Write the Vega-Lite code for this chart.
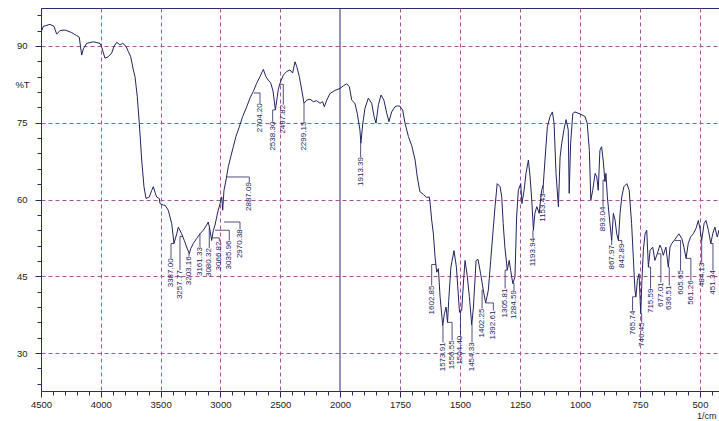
{
  "$schema": "https://vega.github.io/schema/vega-lite/v6.json",
  "width": 680,
  "height": 383,
  "autosize": {"type": "none"},
  "padding": {"left": 41, "top": 8, "right": 0, "bottom": 30},
  "background": "white",
  "config": {
    "view": {"stroke": "#2a2a6e", "strokeWidth": 1},
    "font": "Liberation Sans",
    "axis": {
      "labelFont": "Liberation Sans",
      "titleFont": "Liberation Sans",
      "labelColor": "#222222",
      "titleColor": "#222222",
      "titleFontWeight": "normal",
      "tickColor": "#2a2a6e",
      "domainColor": "#2a2a6e",
      "gridColor": "#a8559a",
      "gridDash": [4, 3],
      "labelOverlap": false
    }
  },
  "datasets": {
    "spectrum": [
      {"wn": 4500, "t": 92.6}, {"wn": 4481, "t": 93.8}, {"wn": 4425, "t": 94.2}, {"wn": 4391, "t": 93.8},
      {"wn": 4369, "t": 92.3}, {"wn": 4341, "t": 93.0}, {"wn": 4299, "t": 93.1}, {"wn": 4243, "t": 92.6},
      {"wn": 4202, "t": 92.0}, {"wn": 4180, "t": 91.7}, {"wn": 4160, "t": 88.2}, {"wn": 4146, "t": 89.4},
      {"wn": 4118, "t": 90.5}, {"wn": 4063, "t": 90.8}, {"wn": 4007, "t": 90.5}, {"wn": 3992, "t": 89.7},
      {"wn": 3965, "t": 87.6}, {"wn": 3937, "t": 87.9}, {"wn": 3909, "t": 88.6}, {"wn": 3890, "t": 89.9},
      {"wn": 3867, "t": 90.7}, {"wn": 3839, "t": 90.2}, {"wn": 3817, "t": 90.5}, {"wn": 3789, "t": 89.9},
      {"wn": 3770, "t": 88.9}, {"wn": 3750, "t": 87.9}, {"wn": 3728, "t": 85.3}, {"wn": 3714, "t": 84.0},
      {"wn": 3695, "t": 80.1}, {"wn": 3678, "t": 74.9}, {"wn": 3658, "t": 67.7}, {"wn": 3639, "t": 62.5},
      {"wn": 3622, "t": 60.2}, {"wn": 3594, "t": 60.5}, {"wn": 3574, "t": 61.8}, {"wn": 3561, "t": 62.5},
      {"wn": 3545, "t": 61.3}, {"wn": 3533, "t": 60.5}, {"wn": 3511, "t": 60.2}, {"wn": 3505, "t": 59.2},
      {"wn": 3477, "t": 58.9}, {"wn": 3463, "t": 58.9}, {"wn": 3436, "t": 57.9}, {"wn": 3407, "t": 55.3},
      {"wn": 3388, "t": 51.4}, {"wn": 3365, "t": 53.3}, {"wn": 3352, "t": 54.6}, {"wn": 3324, "t": 53.3},
      {"wn": 3302, "t": 52.0}, {"wn": 3282, "t": 50.7}, {"wn": 3260, "t": 49.4}, {"wn": 3248, "t": 50.4},
      {"wn": 3227, "t": 51.4}, {"wn": 3198, "t": 52.4}, {"wn": 3171, "t": 53.3}, {"wn": 3143, "t": 54.0},
      {"wn": 3115, "t": 55.0}, {"wn": 3101, "t": 55.6}, {"wn": 3087, "t": 54.0}, {"wn": 3073, "t": 52.0},
      {"wn": 3059, "t": 54.0}, {"wn": 3045, "t": 55.0}, {"wn": 3031, "t": 56.6}, {"wn": 3018, "t": 57.9},
      {"wn": 3003, "t": 59.2}, {"wn": 2989, "t": 60.5}, {"wn": 2981, "t": 57.9}, {"wn": 2970, "t": 61.8},
      {"wn": 2953, "t": 63.8}, {"wn": 2934, "t": 66.4}, {"wn": 2914, "t": 68.3}, {"wn": 2892, "t": 70.3},
      {"wn": 2870, "t": 72.3}, {"wn": 2842, "t": 74.2}, {"wn": 2814, "t": 76.2}, {"wn": 2780, "t": 78.1},
      {"wn": 2753, "t": 79.8}, {"wn": 2725, "t": 81.1}, {"wn": 2697, "t": 82.7}, {"wn": 2669, "t": 84.0},
      {"wn": 2641, "t": 85.4}, {"wn": 2619, "t": 84.0}, {"wn": 2600, "t": 83.3}, {"wn": 2580, "t": 82.8},
      {"wn": 2560, "t": 81.2}, {"wn": 2540, "t": 77.5}, {"wn": 2525, "t": 80.0}, {"wn": 2516, "t": 81.5},
      {"wn": 2502, "t": 82.7}, {"wn": 2474, "t": 84.3}, {"wn": 2446, "t": 85.0}, {"wn": 2418, "t": 85.3},
      {"wn": 2396, "t": 84.7}, {"wn": 2376, "t": 86.9}, {"wn": 2362, "t": 86.0}, {"wn": 2340, "t": 84.0},
      {"wn": 2320, "t": 81.4}, {"wn": 2301, "t": 78.8}, {"wn": 2278, "t": 79.4}, {"wn": 2251, "t": 79.6},
      {"wn": 2223, "t": 79.1}, {"wn": 2195, "t": 79.3}, {"wn": 2167, "t": 78.8}, {"wn": 2145, "t": 79.1},
      {"wn": 2131, "t": 78.1}, {"wn": 2111, "t": 79.4}, {"wn": 2084, "t": 80.7}, {"wn": 2042, "t": 81.3},
      {"wn": 2000, "t": 81.7}, {"wn": 1986, "t": 82.2}, {"wn": 1972, "t": 82.6}, {"wn": 1961, "t": 82.0},
      {"wn": 1951, "t": 79.4}, {"wn": 1938, "t": 78.8}, {"wn": 1928, "t": 76.8}, {"wn": 1917, "t": 73.6},
      {"wn": 1913, "t": 71.0}, {"wn": 1905, "t": 74.9}, {"wn": 1896, "t": 77.8}, {"wn": 1882, "t": 79.8},
      {"wn": 1868, "t": 78.8}, {"wn": 1858, "t": 76.2}, {"wn": 1850, "t": 74.9}, {"wn": 1840, "t": 78.5},
      {"wn": 1829, "t": 80.4}, {"wn": 1817, "t": 79.4}, {"wn": 1805, "t": 76.8}, {"wn": 1796, "t": 75.2},
      {"wn": 1785, "t": 77.1}, {"wn": 1771, "t": 78.1}, {"wn": 1761, "t": 78.3}, {"wn": 1750, "t": 78.2},
      {"wn": 1739, "t": 77.5}, {"wn": 1729, "t": 74.9}, {"wn": 1715, "t": 72.3}, {"wn": 1701, "t": 70.5},
      {"wn": 1687, "t": 67.7}, {"wn": 1678, "t": 64.4}, {"wn": 1667, "t": 61.5}, {"wn": 1663, "t": 61.4},
      {"wn": 1653, "t": 61.0}, {"wn": 1639, "t": 60.4}, {"wn": 1628, "t": 60.5}, {"wn": 1625, "t": 59.5},
      {"wn": 1618, "t": 56.0}, {"wn": 1611, "t": 53.3}, {"wn": 1604, "t": 48.8}, {"wn": 1597, "t": 45.8},
      {"wn": 1590, "t": 46.5}, {"wn": 1583, "t": 41.0}, {"wn": 1572, "t": 35.4}, {"wn": 1565, "t": 37.7},
      {"wn": 1558, "t": 39.0}, {"wn": 1552, "t": 36.0}, {"wn": 1547, "t": 40.3}, {"wn": 1538, "t": 46.8},
      {"wn": 1525, "t": 50.0}, {"wn": 1515, "t": 46.8}, {"wn": 1502, "t": 38.0}, {"wn": 1493, "t": 38.3},
      {"wn": 1486, "t": 43.5}, {"wn": 1479, "t": 48.1}, {"wn": 1470, "t": 45.2}, {"wn": 1461, "t": 41.0},
      {"wn": 1451, "t": 35.5}, {"wn": 1444, "t": 39.0}, {"wn": 1433, "t": 48.1}, {"wn": 1425, "t": 48.3},
      {"wn": 1414, "t": 45.5}, {"wn": 1403, "t": 42.3}, {"wn": 1393, "t": 39.8}, {"wn": 1382, "t": 42.3},
      {"wn": 1372, "t": 48.1}, {"wn": 1361, "t": 54.6}, {"wn": 1354, "t": 58.6}, {"wn": 1345, "t": 63.1},
      {"wn": 1333, "t": 62.5}, {"wn": 1326, "t": 60.5}, {"wn": 1320, "t": 55.3}, {"wn": 1313, "t": 50.7},
      {"wn": 1303, "t": 46.2}, {"wn": 1295, "t": 48.1}, {"wn": 1289, "t": 46.2}, {"wn": 1280, "t": 43.6},
      {"wn": 1271, "t": 44.9}, {"wn": 1264, "t": 56.6}, {"wn": 1257, "t": 61.8}, {"wn": 1247, "t": 63.1},
      {"wn": 1242, "t": 59.2}, {"wn": 1233, "t": 61.8}, {"wn": 1225, "t": 65.1}, {"wn": 1215, "t": 67.7},
      {"wn": 1208, "t": 64.4}, {"wn": 1201, "t": 59.9}, {"wn": 1194, "t": 54.0}, {"wn": 1188, "t": 57.3},
      {"wn": 1180, "t": 58.6}, {"wn": 1170, "t": 57.3}, {"wn": 1160, "t": 61.8}, {"wn": 1153, "t": 62.8},
      {"wn": 1146, "t": 67.7}, {"wn": 1136, "t": 74.2}, {"wn": 1125, "t": 76.2}, {"wn": 1115, "t": 77.1},
      {"wn": 1108, "t": 74.9}, {"wn": 1100, "t": 65.1}, {"wn": 1090, "t": 58.6}, {"wn": 1083, "t": 68.3},
      {"wn": 1076, "t": 71.0}, {"wn": 1067, "t": 73.6}, {"wn": 1058, "t": 75.6}, {"wn": 1049, "t": 73.6},
      {"wn": 1045, "t": 61.2}, {"wn": 1039, "t": 71.0}, {"wn": 1030, "t": 76.8}, {"wn": 1021, "t": 77.1},
      {"wn": 1000, "t": 76.7}, {"wn": 979, "t": 76.2}, {"wn": 970, "t": 74.9}, {"wn": 961, "t": 69.6},
      {"wn": 955, "t": 59.9}, {"wn": 947, "t": 61.8}, {"wn": 937, "t": 65.1}, {"wn": 930, "t": 64.4},
      {"wn": 924, "t": 61.8}, {"wn": 917, "t": 69.6}, {"wn": 910, "t": 70.3}, {"wn": 903, "t": 67.5},
      {"wn": 896, "t": 63.5}, {"wn": 892, "t": 65.1}, {"wn": 886, "t": 60.5}, {"wn": 878, "t": 56.6},
      {"wn": 868, "t": 52.0}, {"wn": 861, "t": 57.3}, {"wn": 854, "t": 56.0}, {"wn": 847, "t": 53.3},
      {"wn": 840, "t": 52.0}, {"wn": 833, "t": 57.3}, {"wn": 826, "t": 60.5}, {"wn": 817, "t": 62.5},
      {"wn": 805, "t": 63.1}, {"wn": 795, "t": 61.8}, {"wn": 785, "t": 55.3}, {"wn": 778, "t": 48.8},
      {"wn": 771, "t": 42.3}, {"wn": 767, "t": 41.0}, {"wn": 761, "t": 44.2}, {"wn": 754, "t": 45.5},
      {"wn": 747, "t": 37.7}, {"wn": 742, "t": 44.2}, {"wn": 736, "t": 50.1}, {"wn": 729, "t": 53.3},
      {"wn": 722, "t": 54.0}, {"wn": 715, "t": 46.8}, {"wn": 708, "t": 50.1}, {"wn": 697, "t": 50.7},
      {"wn": 688, "t": 48.1}, {"wn": 678, "t": 49.4}, {"wn": 667, "t": 51.1}, {"wn": 660, "t": 50.4},
      {"wn": 653, "t": 49.1}, {"wn": 642, "t": 50.7}, {"wn": 632, "t": 46.8}, {"wn": 625, "t": 50.7},
      {"wn": 618, "t": 51.4}, {"wn": 608, "t": 52.0}, {"wn": 597, "t": 52.7}, {"wn": 588, "t": 53.3},
      {"wn": 576, "t": 52.4}, {"wn": 567, "t": 50.7}, {"wn": 558, "t": 48.5}, {"wn": 549, "t": 51.4},
      {"wn": 539, "t": 52.7}, {"wn": 528, "t": 53.3}, {"wn": 517, "t": 54.3}, {"wn": 507, "t": 55.9},
      {"wn": 500, "t": 54.3}, {"wn": 493, "t": 52.0}, {"wn": 483, "t": 55.3}, {"wn": 475, "t": 55.9},
      {"wn": 465, "t": 54.0}, {"wn": 455, "t": 51.4}, {"wn": 447, "t": 53.3}, {"wn": 438, "t": 54.6},
      {"wn": 428, "t": 52.7}, {"wn": 421, "t": 54.0}, {"wn": 412, "t": 53.0}
    ],
    "peaks": [
      {"label": "3387.00", "px": 3388, "pt": 51.4, "lx": 3413, "ly": 48.5},
      {"label": "3257.77", "px": 3313, "pt": 52.8, "lx": 3338, "ly": 46.2},
      {"label": "3203.16", "px": 3260, "pt": 49.4, "lx": 3263, "ly": 48.9},
      {"label": "3161.33", "px": 3171, "pt": 53.3, "lx": 3171, "ly": 50.7},
      {"label": "3080.32", "px": 3091, "pt": 54.4, "lx": 3093, "ly": 50.5},
      {"label": "3066.82", "px": 3070, "pt": 52.5, "lx": 3009, "ly": 51.8},
      {"label": "3035.96", "px": 3045, "pt": 54.0, "lx": 2926, "ly": 52.0},
      {"label": "2970.38", "px": 2970, "pt": 55.6, "lx": 2836, "ly": 54.2},
      {"label": "2887.09", "px": 2948, "pt": 64.4, "lx": 2758, "ly": 63.4},
      {"label": "2704.20", "px": 2720, "pt": 80.8, "lx": 2669, "ly": 78.8},
      {"label": "2538.30", "px": 2540, "pt": 77.5, "lx": 2563, "ly": 75.2},
      {"label": "2497.82", "px": 2502, "pt": 82.5, "lx": 2474, "ly": 78.5},
      {"label": "2299.15", "px": 2301, "pt": 78.8, "lx": 2301, "ly": 75.2},
      {"label": "1913.39", "px": 1913, "pt": 71.0, "lx": 1914, "ly": 68.3},
      {"label": "1602.85", "px": 1600, "pt": 47.3, "lx": 1618, "ly": 43.2},
      {"label": "1573.91", "px": 1572, "pt": 35.4, "lx": 1571, "ly": 32.1},
      {"label": "1556.55", "px": 1552, "pt": 36.0, "lx": 1533, "ly": 32.5},
      {"label": "1504.40", "px": 1502, "pt": 38.0, "lx": 1498, "ly": 33.4},
      {"label": "1454.33", "px": 1451, "pt": 35.5, "lx": 1450, "ly": 32.1},
      {"label": "1402.25", "px": 1403, "pt": 42.3, "lx": 1408, "ly": 38.7},
      {"label": "1392.61", "px": 1393, "pt": 39.8, "lx": 1361, "ly": 38.3},
      {"label": "1305.81", "px": 1303, "pt": 46.2, "lx": 1312, "ly": 42.6},
      {"label": "1284.59", "px": 1280, "pt": 43.6, "lx": 1275, "ly": 42.3},
      {"label": "1193.94", "px": 1194, "pt": 54.0, "lx": 1196, "ly": 52.5},
      {"label": "1153.43", "px": 1153, "pt": 62.8, "lx": 1153, "ly": 61.2},
      {"label": "893.04", "px": 894, "pt": 63.8, "lx": 904, "ly": 58.6},
      {"label": "867.97", "px": 868, "pt": 52.0, "lx": 868, "ly": 51.1},
      {"label": "842.89", "px": 840, "pt": 52.0, "lx": 826, "ly": 51.4},
      {"label": "765.74", "px": 767, "pt": 41.0, "lx": 781, "ly": 38.3},
      {"label": "746.45", "px": 747, "pt": 37.7, "lx": 743, "ly": 36.0},
      {"label": "715.59", "px": 715, "pt": 46.8, "lx": 706, "ly": 42.6},
      {"label": "677.01", "px": 678, "pt": 49.4, "lx": 663, "ly": 43.8},
      {"label": "636.51", "px": 632, "pt": 46.8, "lx": 628, "ly": 43.2},
      {"label": "605.65", "px": 606, "pt": 52.0, "lx": 581, "ly": 46.2},
      {"label": "561.26", "px": 558, "pt": 48.5, "lx": 538, "ly": 44.2},
      {"label": "484.13", "px": 493, "pt": 52.0, "lx": 493, "ly": 47.7},
      {"label": "451.34", "px": 455, "pt": 51.4, "lx": 446, "ly": 46.2}
    ]
  },
  "encoding": {
    "x": {
      "type": "quantitative",
      "scale": {"domain": [4500, 2000, 412.5], "range": [0, 299, 680], "nice": false, "zero": false},
      "axis": {
        "values": [4500, 4400, 4300, 4200, 4100, 4000, 3900, 3800, 3700, 3600, 3500, 3400, 3300, 3200, 3100, 3000, 2900, 2800, 2700, 2600, 2500, 2400, 2300, 2200, 2100, 2000,
                   1950, 1900, 1850, 1800, 1750, 1700, 1650, 1600, 1550, 1500, 1450, 1400, 1350, 1300, 1250, 1200, 1150, 1100, 1050, 1000, 950, 900, 850, 800, 750, 700, 650, 600, 550, 500, 450],
        "format": "d",
        "labelExpr": "(datum.value % 500 === 0 || (datum.value < 2000 && datum.value % 250 === 0)) ? datum.label : ''",
        "tickSize": {"condition": {"test": "datum.value % 500 === 0 || (datum.value < 2000 && datum.value % 250 === 0)", "value": 6}, "value": 4},
        "grid": true,
        "gridOpacity": {"condition": {"test": "(datum.value % 500 === 0 || (datum.value < 2000 && datum.value % 250 === 0)) && datum.value !== 2000 && datum.value !== 4500", "value": 1}, "value": 0},
        "labelFontSize": 9.5,
        "labelPadding": 2,
        "labelFlush": false,
        "title": "1/cm",
        "titleFontSize": 9,
        "titleAlign": "right",
        "titleAnchor": "end",
        "titleBaseline": "middle",
        "titleX": 675,
        "titleY": 24
      }
    },
    "y": {
      "type": "quantitative",
      "scale": {"domain": [22.6, 97.4], "nice": false, "zero": false},
      "axis": {
        "values": [24, 27, 30, 33, 36, 39, 42, 45, 48, 51, 54, 57, 60, 63, 66, 69, 72, 75, 78, 81, 84, 87, 90, 93, 96],
        "labelExpr": "datum.value % 15 === 0 ? datum.label : ''",
        "tickSize": {"condition": {"test": "datum.value % 15 === 0", "value": 6}, "value": 4},
        "grid": true,
        "gridOpacity": {"condition": {"test": "datum.value % 15 === 0", "value": 1}, "value": 0},
        "labelFontSize": 9.5,
        "labelPadding": 8,
        "title": "%T",
        "titleFontSize": 9.5,
        "titleAngle": 0,
        "titleAlign": "center",
        "titleBaseline": "middle",
        "titleX": -19,
        "titleY": 76
      }
    }
  },
  "layer": [
    {
      "data": {"values": [{"wn": 2000, "top": 97.4, "bottom": 22.6}]},
      "mark": {"type": "rule", "color": "#2a2a6e", "strokeWidth": 1},
      "encoding": {
        "x": {"field": "wn"},
        "y": {"field": "top"},
        "y2": {"field": "bottom"}
      }
    },
    {
      "data": {"name": "spectrum"},
      "mark": {"type": "line", "color": "#23235e", "strokeWidth": 1, "clip": true},
      "encoding": {
        "x": {"field": "wn"},
        "y": {"field": "t"}
      }
    },
    {
      "data": {"name": "peaks"},
      "mark": {"type": "rule", "color": "#23235e", "strokeWidth": 0.8},
      "encoding": {
        "x": {"field": "px"},
        "x2": {"field": "lx"},
        "y": {"field": "pt"}
      }
    },
    {
      "data": {"name": "peaks"},
      "mark": {"type": "rule", "color": "#23235e", "strokeWidth": 0.8},
      "encoding": {
        "x": {"field": "lx"},
        "y": {"field": "pt"},
        "y2": {"field": "ly"}
      }
    },
    {
      "data": {"name": "peaks"},
      "mark": {"type": "text", "angle": 270, "align": "right", "baseline": "middle", "fontSize": 8, "color": "#23235e", "font": "Liberation Sans"},
      "encoding": {
        "x": {"field": "lx"},
        "y": {"field": "ly"},
        "text": {"field": "label"}
      }
    }
  ]
}
